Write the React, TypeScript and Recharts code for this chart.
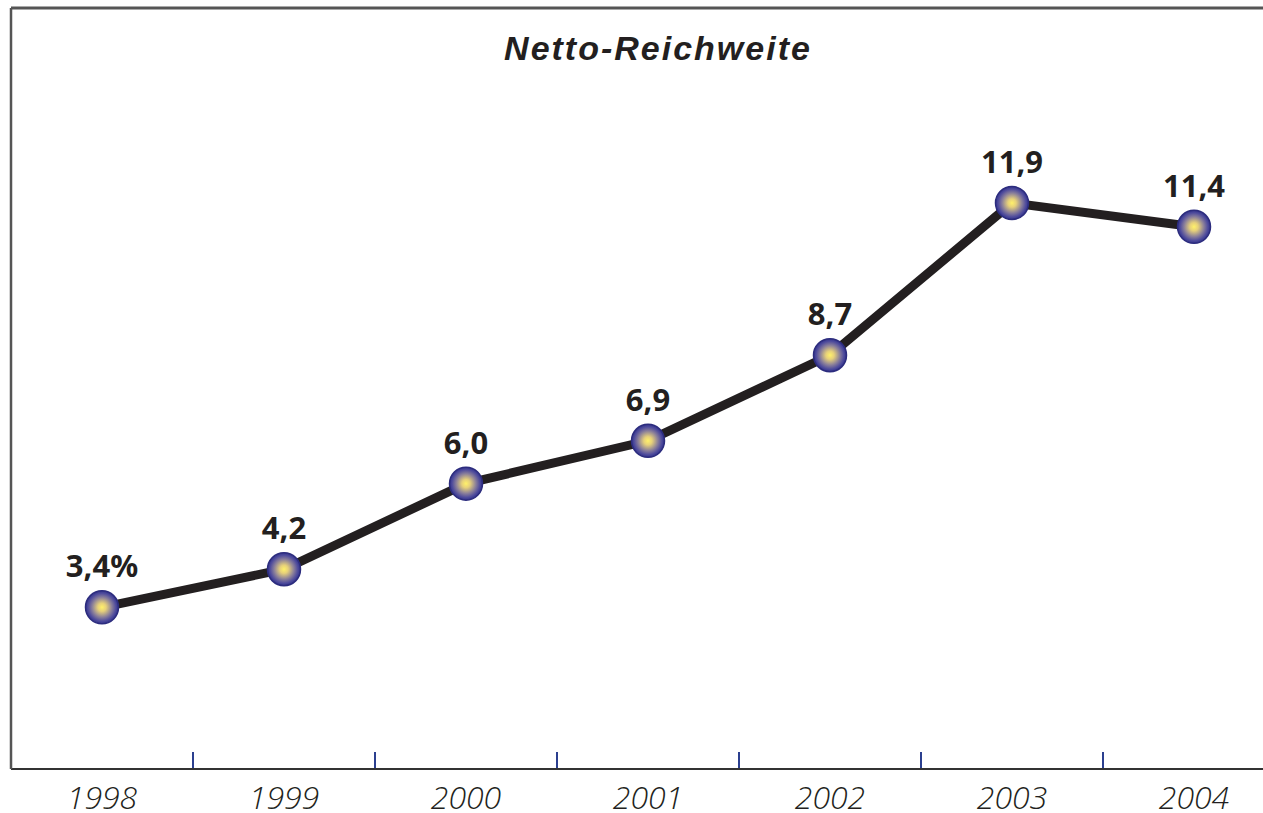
import { LineChart, Line, XAxis, YAxis, ReferenceLine } from "recharts";

// Netto-Reichweite in Prozent, 1998–2004
const years = ["1998", "1999", "2000", "2001", "2002", "2003", "2004"];
const reach = [3.4, 4.2, 6.0, 6.9, 8.7, 11.9, 11.4];
const suffixes = ["%", "", "", "", "", "", ""];

const data = years.map((year, i) => ({ year, reach: reach[i], suffix: suffixes[i] }));

const fmt = (v: number) => v.toFixed(1).replace(".", ",");

function YearTick(props: any) {
  const { x, y, payload, index } = props;
  const last = index === years.length - 1;
  return (
    <g>
      {!last && (
        <line
          x1={x + payload.offset}
          x2={x + payload.offset}
          y1={y - 1}
          y2={y - 17}
          stroke="#2b3f8f"
          strokeWidth={2}
        />
      )}
      <text
        x={x}
        y={y + 40}
        textAnchor="middle"
        fontFamily="'Open Sans', sans-serif"
        fontStyle="italic"
        fontWeight={300}
        fontSize={32}
        fill="#231f20"
      >
        {payload.value}
      </text>
    </g>
  );
}

function ValueLabel(props: any) {
  const { x, y, value, index } = props;
  return (
    <text
      x={x}
      y={y - 30}
      textAnchor="middle"
      fontFamily="'Noto Sans', sans-serif"
      fontWeight={700}
      fontSize={31}
      fill="#231f20"
    >
      {fmt(value) + suffixes[index]}
    </text>
  );
}

function Ball(props: any) {
  const { cx, cy } = props;
  return <circle cx={cx} cy={cy} r={16.5} fill="url(#ball)" stroke="#2c2c7e" strokeWidth={1.5} />;
}

export default function App() {
  return (
    <div
      style={{
        position: "absolute",
        left: 0,
        top: 0,
        width: 1263,
        height: 813,
        overflow: "hidden",
        background: "#fff",
      }}
    >
      <LineChart width={1290} height={813} data={data} margin={{ top: 8, right: 5, bottom: 0, left: 10 }}>
        <defs>
          <radialGradient id="ball" cx="50%" cy="50%" r="50%">
            <stop offset="0%" stopColor="#fff16a" />
            <stop offset="25%" stopColor="#e6d07a" />
            <stop offset="60%" stopColor="#8a7f9a" />
            <stop offset="85%" stopColor="#4d4a9c" />
            <stop offset="100%" stopColor="#33338a" />
          </radialGradient>
        </defs>
        <XAxis
          dataKey="year"
          scale="band"
          height={44}
          axisLine={{ stroke: "#333", strokeWidth: 2 }}
          tickLine={false}
          tickSize={0}
          tickMargin={0}
          tick={<YearTick />}
          interval={0}
        />
        <YAxis
          type="number"
          domain={[0, 16]}
          width={1}
          tick={false}
          tickLine={false}
          axisLine={{ stroke: "#555", strokeWidth: 2.5 }}
        />
        <ReferenceLine y={16} stroke="#555" strokeWidth={3} />
        <Line
          dataKey="reach"
          stroke="#231f20"
          strokeWidth={9}
          isAnimationActive={false}
          dot={<Ball />}
          activeDot={false}
          label={<ValueLabel />}
        />
      </LineChart>
      <div
        style={{
          position: "absolute",
          left: 0,
          width: 1316,
          top: 26,
          textAlign: "center",
          fontFamily: "'Liberation Sans', Arial, sans-serif",
          fontWeight: 700,
          fontStyle: "italic",
          fontSize: 34,
          letterSpacing: 2,
          color: "#231f20",
          lineHeight: "44px",
        }}
      >
        Netto-Reichweite
      </div>
    </div>
  );
}
